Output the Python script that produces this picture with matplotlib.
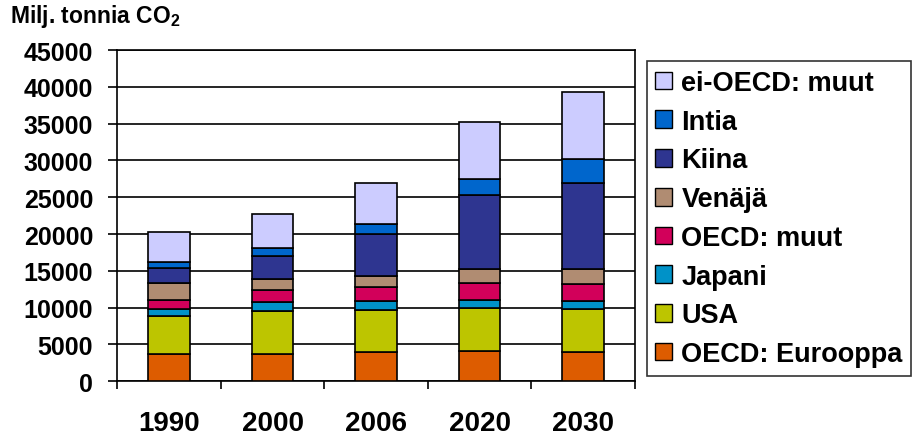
import numpy as np
import matplotlib
matplotlib.use("Agg")
from matplotlib import pyplot as plt
from matplotlib.ticker import FixedLocator

plt.rcParams['font.family'] = 'Liberation Sans'
plt.rcParams['font.weight'] = 'bold'
plt.rcParams['mathtext.fontset'] = 'custom'
plt.rcParams['mathtext.rm'] = 'Liberation Sans:bold'
plt.rcParams['mathtext.it'] = 'Liberation Sans:bold'

years = ['1990', '2000', '2006', '2020', '2030']
# series, bottom to top
labels = ['OECD: Eurooppa', 'USA', 'Japani', 'OECD: muut', 'Venäjä',
          'Kiina', 'Intia', 'ei-OECD: muut']
eurooppa = [3750, 3750, 3950, 4080, 3950]
usa = [5090, 5770, 5710, 5850, 5850]
japani = [950, 1220, 1270, 1090, 1090]
oecd_muut = [1220, 1630, 1860, 2310, 2310]
venaja = [2310, 1500, 1500, 1900, 2040]
kiina = [2120, 3130, 5710, 10070, 11700]
intia = [740, 1090, 1360, 2180, 3260]
ei_oecd = [4080, 4600, 5640, 7750, 9120]
series = [eurooppa, usa, japani, oecd_muut, venaja, kiina, intia, ei_oecd]
colors = ['#DD5C00', '#BDC500', '#0092C8', '#D2005A', '#B08C72',
          '#2E3590', '#0066CC', '#CCCCFF']

fig = plt.figure(figsize=(9.19, 4.39), dpi=100)
ax = fig.add_axes([0.1277, 0.1292, 0.5630, 0.7546])

x = np.arange(len(years))
bottom = np.zeros(len(years))
for vals, lab, col in zip(series, labels, colors):
    ax.bar(x, vals, 0.4, bottom=bottom, color=col, edgecolor='black',
           linewidth=1.2, label=lab, zorder=3)
    bottom += np.array(vals)

ax.set_xlim(-0.5, len(years) - 0.5)
ax.set_ylim(0, 45000)
ax.set_yticks(np.arange(0, 45001, 5000))
ax.yaxis.grid(True, color='black', linewidth=1.2, zorder=0)
ax.set_xticks(x)
ax.set_xticklabels(years, fontsize=20, fontweight='bold')
ax.xaxis.set_minor_locator(FixedLocator(np.arange(-0.5, len(years), 1)))
ax.tick_params(axis='x', which='major', length=0, pad=21)
ax.tick_params(axis='x', which='minor', length=6, width=1.2, direction='out')
ax.tick_params(axis='y', length=6.5, width=1.2, pad=11, labelsize=18)
for lbl in ax.get_yticklabels():
    lbl.set_fontweight('bold')
for s in ax.spines.values():
    s.set_linewidth(1.2)
    s.set_color('black')

fig.text(0.011, 0.948, 'Milj. tonnia CO$_2$', fontsize=16.5, fontweight='bold')

h, l = ax.get_legend_handles_labels()
leg = fig.legend(h[::-1], l[::-1], loc='upper left',
                 bbox_to_anchor=(0.7037, 0.858), borderaxespad=0,
                 prop={'weight': 'bold', 'size': 19.5},
                 frameon=True, fancybox=False, edgecolor='black',
                 handlelength=0.63, handleheight=0.63, handletextpad=0.33,
                 labelspacing=0.47, borderpad=0.32)
leg.get_frame().set_linewidth(1.2)
for p in leg.get_patches():
    p.set_linewidth(1.0)

fig.savefig('out.png', dpi=100)
